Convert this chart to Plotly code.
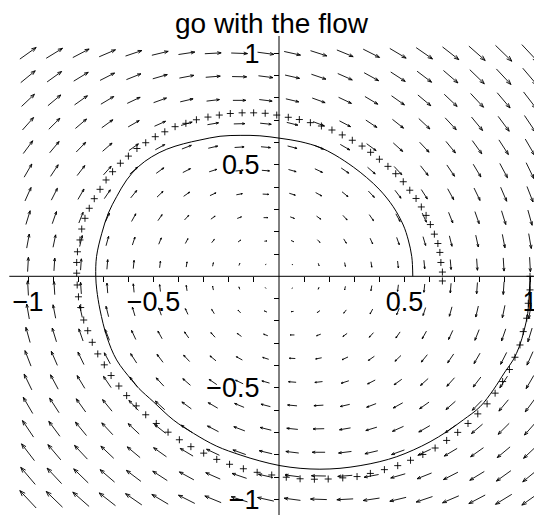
import math
import plotly.graph_objects as go

TITLE = "go with the flow"

# arrow grid (20 x 20), rows go bottom -> top
GRID_X = [-1.000, -0.895, -0.789, -0.684, -0.579, -0.474, -0.368, -0.263, -0.158, -0.053,
          0.053, 0.158, 0.263, 0.368, 0.474, 0.579, 0.684, 0.789, 0.895, 1.000]
GRID_Y = [-1.000, -0.895, -0.789, -0.684, -0.579, -0.474, -0.368, -0.263, -0.158, -0.053,
          0.053, 0.158, 0.263, 0.368, 0.474, 0.579, 0.684, 0.789, 0.895, 1.000]

# horizontal component of the arrows, the same along a row
U_ROW = [-1.00, -0.89, -0.79, -0.68, -0.58, -0.47, -0.37, -0.26, -0.16, -0.05,
         0.05, 0.16, 0.26, 0.37, 0.47, 0.58, 0.68, 0.79, 0.89, 1.00]

# vertical component of the arrows, one row per GRID_Y value
V_GRID = [
    [1.20, 1.09, 0.99, 0.88, 0.78, 0.67, 0.57, 0.46, 0.36, 0.25, 0.15, 0.04, -0.06, -0.17, -0.27, -0.38, -0.48, -0.59, -0.69, -0.80],
    [1.18, 1.07, 0.97, 0.86, 0.76, 0.65, 0.55, 0.44, 0.34, 0.23, 0.13, 0.02, -0.08, -0.19, -0.29, -0.40, -0.51, -0.61, -0.72, -0.82],
    [1.16, 1.05, 0.95, 0.84, 0.74, 0.63, 0.53, 0.42, 0.32, 0.21, 0.11, 0.00, -0.11, -0.21, -0.32, -0.42, -0.53, -0.63, -0.74, -0.84],
    [1.14, 1.03, 0.93, 0.82, 0.72, 0.61, 0.51, 0.40, 0.29, 0.19, 0.08, -0.02, -0.13, -0.23, -0.34, -0.44, -0.55, -0.65, -0.76, -0.86],
    [1.12, 1.01, 0.91, 0.80, 0.69, 0.59, 0.48, 0.38, 0.27, 0.17, 0.06, -0.04, -0.15, -0.25, -0.36, -0.46, -0.57, -0.67, -0.78, -0.88],
    [1.09, 0.99, 0.88, 0.78, 0.67, 0.57, 0.46, 0.36, 0.25, 0.15, 0.04, -0.06, -0.17, -0.27, -0.38, -0.48, -0.59, -0.69, -0.80, -0.91],
    [1.07, 0.97, 0.86, 0.76, 0.65, 0.55, 0.44, 0.34, 0.23, 0.13, 0.02, -0.08, -0.19, -0.29, -0.40, -0.51, -0.61, -0.72, -0.82, -0.93],
    [1.05, 0.95, 0.84, 0.74, 0.63, 0.53, 0.42, 0.32, 0.21, 0.11, 0.00, -0.11, -0.21, -0.32, -0.42, -0.53, -0.63, -0.74, -0.84, -0.95],
    [1.03, 0.93, 0.82, 0.72, 0.61, 0.51, 0.40, 0.30, 0.19, 0.08, -0.02, -0.13, -0.23, -0.34, -0.44, -0.55, -0.65, -0.76, -0.86, -0.97],
    [1.01, 0.91, 0.80, 0.69, 0.59, 0.48, 0.38, 0.27, 0.17, 0.06, -0.04, -0.15, -0.25, -0.36, -0.46, -0.57, -0.67, -0.78, -0.88, -0.99],
    [0.99, 0.88, 0.78, 0.67, 0.57, 0.46, 0.36, 0.25, 0.15, 0.04, -0.06, -0.17, -0.27, -0.38, -0.48, -0.59, -0.69, -0.80, -0.91, -1.01],
    [0.97, 0.86, 0.76, 0.65, 0.55, 0.44, 0.34, 0.23, 0.13, 0.02, -0.08, -0.19, -0.30, -0.40, -0.51, -0.61, -0.72, -0.82, -0.93, -1.03],
    [0.95, 0.84, 0.74, 0.63, 0.53, 0.42, 0.32, 0.21, 0.11, 0.00, -0.11, -0.21, -0.32, -0.42, -0.53, -0.63, -0.74, -0.84, -0.95, -1.05],
    [0.93, 0.82, 0.72, 0.61, 0.51, 0.40, 0.29, 0.19, 0.08, -0.02, -0.13, -0.23, -0.34, -0.44, -0.55, -0.65, -0.76, -0.86, -0.97, -1.07],
    [0.91, 0.80, 0.69, 0.59, 0.48, 0.38, 0.27, 0.17, 0.06, -0.04, -0.15, -0.25, -0.36, -0.46, -0.57, -0.67, -0.78, -0.88, -0.99, -1.09],
    [0.88, 0.78, 0.67, 0.57, 0.46, 0.36, 0.25, 0.15, 0.04, -0.06, -0.17, -0.27, -0.38, -0.48, -0.59, -0.69, -0.80, -0.91, -1.01, -1.12],
    [0.86, 0.76, 0.65, 0.55, 0.44, 0.34, 0.23, 0.13, 0.02, -0.08, -0.19, -0.29, -0.40, -0.51, -0.61, -0.72, -0.82, -0.93, -1.03, -1.14],
    [0.84, 0.74, 0.63, 0.53, 0.42, 0.32, 0.21, 0.11, 0.00, -0.11, -0.21, -0.32, -0.42, -0.53, -0.63, -0.74, -0.84, -0.95, -1.05, -1.16],
    [0.82, 0.72, 0.61, 0.51, 0.40, 0.29, 0.19, 0.08, -0.02, -0.13, -0.23, -0.34, -0.44, -0.55, -0.65, -0.76, -0.86, -0.97, -1.07, -1.18],
    [0.80, 0.69, 0.59, 0.48, 0.38, 0.27, 0.17, 0.06, -0.04, -0.15, -0.25, -0.36, -0.46, -0.57, -0.67, -0.78, -0.88, -0.99, -1.09, -1.20],
]

# solid trajectory, starting at (1, 0)
SOLID_X = [1.000, 0.997, 0.991, 0.977, 0.957, 0.933, 0.900, 0.854, 0.801, 0.734,
           0.668, 0.602, 0.535, 0.469, 0.402, 0.323, 0.243, 0.163, 0.084, 0.004,
           -0.076, -0.155, -0.248, -0.341, -0.421, -0.501, -0.558, -0.587, -0.647, -0.686,
           -0.713, -0.726, -0.730, -0.727, -0.706, -0.680, -0.647, -0.607, -0.561, -0.507,
           -0.447, -0.381, -0.315, -0.235, -0.155, -0.076, 0.004, 0.084, 0.163, 0.223,
           0.296, 0.349, 0.402, 0.455, 0.495, 0.515, 0.529, 0.533]
SOLID_Y = [0.000, -0.076, -0.166, -0.241, -0.316, -0.375, -0.429, -0.509, -0.585, -0.644,
           -0.697, -0.742, -0.779, -0.809, -0.831, -0.849, -0.861, -0.865, -0.861, -0.849,
           -0.828, -0.801, -0.762, -0.704, -0.644, -0.562, -0.503, -0.465, -0.375, -0.271,
           -0.151, -0.061, 0.000, 0.088, 0.193, 0.283, 0.357, 0.432, 0.491, 0.536,
           0.570, 0.594, 0.611, 0.628, 0.632, 0.630, 0.619, 0.604, 0.578, 0.544,
           0.490, 0.443, 0.387, 0.312, 0.230, 0.163, 0.088, 0.000]

# "+" points of the stepped trajectory
PLUS_X = [1.000, 1.000, 0.993, 0.987, 0.973, 0.960, 0.940, 0.918, 0.891, 0.861,
          0.829, 0.792, 0.753, 0.712, 0.668, 0.622, 0.573, 0.524, 0.473, 0.420,
          0.364, 0.311, 0.254, 0.196, 0.141, 0.084, 0.029, -0.029, -0.087, -0.142,
          -0.197, -0.248, -0.300, -0.351, -0.397, -0.442, -0.489, -0.531, -0.569, -0.607,
          -0.638, -0.669, -0.696, -0.722, -0.744, -0.762, -0.778, -0.790, -0.799, -0.804,
          -0.806, -0.806, -0.803, -0.793, -0.786, -0.773, -0.756, -0.736, -0.713, -0.689,
          -0.663, -0.632, -0.600, -0.566, -0.531, -0.493, -0.455, -0.414, -0.371, -0.329,
          -0.283, -0.238, -0.194, -0.147, -0.101, -0.055, -0.009, 0.037, 0.081, 0.125,
          0.169, 0.211, 0.252, 0.292, 0.331, 0.365, 0.400, 0.434, 0.465, 0.495,
          0.521, 0.546, 0.567, 0.586, 0.603, 0.619, 0.633, 0.641, 0.645, 0.651, 0.651]
PLUS_Y = [0.000, -0.061, -0.121, -0.188, -0.248, -0.308, -0.363, -0.418, -0.472, -0.524,
          -0.572, -0.617, -0.660, -0.700, -0.736, -0.770, -0.799, -0.825, -0.849, -0.867,
          -0.884, -0.898, -0.904, -0.909, -0.910, -0.908, -0.901, -0.891, -0.879, -0.863,
          -0.843, -0.821, -0.793, -0.764, -0.733, -0.699, -0.660, -0.621, -0.581, -0.535,
          -0.492, -0.445, -0.397, -0.348, -0.296, -0.244, -0.196, -0.140, -0.092, -0.039,
          0.014, 0.062, 0.110, 0.163, 0.212, 0.260, 0.305, 0.348, 0.390, 0.432,
          0.469, 0.507, 0.539, 0.573, 0.599, 0.626, 0.648, 0.671, 0.686, 0.702,
          0.714, 0.723, 0.730, 0.733, 0.733, 0.731, 0.723, 0.713, 0.703, 0.689,
          0.674, 0.656, 0.634, 0.610, 0.584, 0.556, 0.525, 0.493, 0.460, 0.424,
          0.386, 0.349, 0.311, 0.273, 0.232, 0.189, 0.147, 0.107, 0.062, 0.019, -0.021]

TICK_VALS = [-1, -0.5, 0.5, 1]
TICK_TEXT = ["\u22121", "\u22120.5", "0.5", "1"]
MINOR_VALS = [-1.0, -0.9, -0.8, -0.7, -0.6, -0.5, -0.4, -0.3, -0.2, -0.1,
              0.1, 0.2, 0.3, 0.4, 0.5, 0.6, 0.7, 0.8, 0.9, 1.0]

# the page body keeps its default 8px margin, so the figure is 8px smaller
W, H = 534, 507
X_RANGE = [-1.0797, 1.0478]
Y_RANGE = [-1.0704, 1.2031]
FONT = "Liberation Sans, Arial, Helvetica, sans-serif"

# arrows: centred on the grid point, head drawn as two short barbs
SCALE = 0.065
KX, KY = 251.0, 223.0   # px per unit on each axis, keeps heads symmetric on screen
ax, ay = [], []
for j, gy in enumerate(GRID_Y):
    for i, gx in enumerate(GRID_X):
        u, v = U_ROW[j], V_GRID[j][i]
        x0, y0 = gx - u * SCALE / 2, gy - v * SCALE / 2
        x1, y1 = gx + u * SCALE / 2, gy + v * SCALE / 2
        ax += [x0, x1, None]
        ay += [y0, y1, None]
        px, py = u * SCALE * KX, v * SCALE * KY
        length = math.hypot(px, py)
        if length == 0:
            continue
        ang = math.atan2(py, px)
        head = 0.25 * length
        for d in (math.radians(160), -math.radians(160)):
            ax += [x1, x1 + head * math.cos(ang + d) / KX, None]
            ay += [y1, y1 + head * math.sin(ang + d) / KY, None]

fig = go.Figure()
fig.add_trace(go.Scatter(x=ax, y=ay, mode="lines",
                         line=dict(color="black", width=0.9), hoverinfo="skip"))
fig.add_trace(go.Scatter(x=SOLID_X, y=SOLID_Y, mode="lines",
                         line=dict(color="black", width=1, shape="spline", smoothing=1.0)))
fig.add_trace(go.Scatter(x=PLUS_X, y=PLUS_Y, mode="markers",
                         marker=dict(symbol="cross-thin", size=5,
                                     line=dict(color="black", width=0.9))))

# axes lines crossing at the origin
fig.add_shape(type="line", x0=-1.0745, x1=X_RANGE[1], y0=0, y1=0,
              line=dict(color="black", width=1))
fig.add_shape(type="line", x0=0, x1=0, y0=Y_RANGE[0], y1=1.0776,
              line=dict(color="black", width=1))

tick_font = dict(family=FONT, size=27, color="black")
minor = dict(tickvals=MINOR_VALS, ticks="outside", ticklen=5, tickwidth=1, tickcolor="black")

fig.update_layout(
    width=W, height=H,
    margin=dict(l=0, r=0, t=0, b=0, autoexpand=False),
    paper_bgcolor="white", plot_bgcolor="white",
    showlegend=False,
    title=dict(text=TITLE, x=0.4934, xanchor="center", y=0.99, yanchor="top",
               font=dict(family=FONT, size=28, color="black")),
    xaxis=dict(range=X_RANGE, anchor="free", automargin=False,
               position=-Y_RANGE[0] / (Y_RANGE[1] - Y_RANGE[0]),
               showgrid=False, zeroline=False, showline=False,
               tickmode="array", tickvals=TICK_VALS, ticktext=TICK_TEXT,
               ticks="outside", ticklen=5, tickwidth=1, tickcolor="black",
               ticklabelstandoff=-4, tickfont=tick_font, minor=minor),
    yaxis=dict(range=Y_RANGE, anchor="free", automargin=False,
               position=-X_RANGE[0] / (X_RANGE[1] - X_RANGE[0]),
               showgrid=False, zeroline=False, showline=False,
               tickmode="array", tickvals=TICK_VALS, ticktext=TICK_TEXT,
               ticks="outside", ticklen=5, tickwidth=1, tickcolor="black",
               ticklabelstandoff=9, tickfont=tick_font, minor=minor),
)

fig.write_html("out.html")
